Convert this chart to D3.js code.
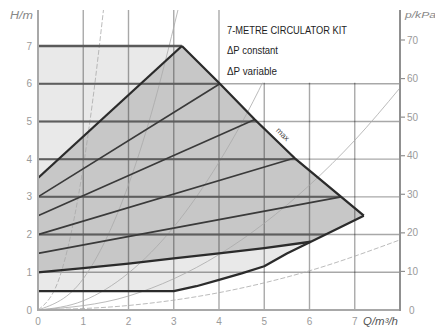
<!DOCTYPE html>
<html>
<head>
<meta charset="utf-8">
<script src="https://cdn.jsdelivr.net/npm/d3@7"></script>
<style>
  html, body { margin: 0; padding: 0; background: #fff; }
  svg { display: block; }
</style>
</head>
<body>
<svg id="chart" width="435" height="329"></svg>
<script>
// Axis ticks: flow rate (m³/h), head (m) and pressure (kPa)
const qTicks = [0, 1, 2, 3, 4, 5, 6, 7];
const hTicks = [0, 1, 2, 3, 4, 5, 6, 7];
const kpaTicks = [0, 10, 20, 30, 40, 50, 60, 70];

// Operating field of the circulator, points as [Q m³/h, H m]
const constMaxHead = 7;
const maxSpeedCurve = [[3.18, 7], [4.02, 6], [4.79, 5.05], [5.67, 4.03], [6.7, 3.0], [7.2, 2.5]];
const minSpeedCurve = [[0, 0.5], [3.0, 0.5], [3.5, 0.63], [4.0, 0.8], [4.5, 0.97], [5.0, 1.16],
                       [5.5, 1.5], [6.03, 1.81], [7.2, 2.5]];
const varMaxLine = [[0, 3.5], [3.18, 7]];
const varMinLine = [[0, 1.0], [1, 1.11], [2, 1.23], [3, 1.37], [4, 1.5], [5, 1.64], [6.03, 1.81]];

// Intermediate ΔP variable settings: head at zero flow, end point on the max curve
const varStartHeads = [3.0, 2.5, 2.0, 1.5];
const varEndPoints = [[4.02, 6.0], [4.79, 5.05], [5.67, 4.03], [6.7, 3.0]];

// Intermediate ΔP constant settings (m)
const constHeads = [2, 3, 4, 5, 6];

// Installation curves through the origin
const systemCurves = [
  { dashed: true,  pts: [[0, 0], [0.5, 0.95], [0.8, 2.43], [1.0, 3.8], [1.2, 5.47], [1.45, 7.99]] },
  { dashed: false, pts: [[0, 0], [1, 0.83], [1.5, 1.87], [2, 3.32], [2.5, 5.19], [3.1, 7.99]] },
  { dashed: false, pts: [[0, 0], [1, 0.245], [2, 0.98], [3, 2.2], [4, 3.92], [5, 6.12], [5.7, 7.99]] },
  { dashed: false, pts: [[0, 0], [2, 0.37], [4, 1.47], [5, 2.3], [6, 3.31], [7, 4.5], [8, 5.89]] },
  { dashed: true,  pts: [[0, 0], [2, 0.12], [4, 0.46], [6, 1.04], [8, 1.86]] }
];

// Legend block
const legendLines = ["7-METRE CIRCULATOR KIT", "ΔP constant", "ΔP variable"];

// ---------------------------------------------------------------------------
const svg = d3.select("#chart");
const x = d3.scaleLinear().domain([0, 8]).range([38, 400]);
const y = d3.scaleLinear().domain([0, 7]).range([310, 46]);
const yKpa = d3.scaleLinear().domain([0, 70]).range([310, 40]);
const plotTop = 10;

const line = d3.line().x(d => x(d[0])).y(d => y(d[1]));
const smooth = d3.line().x(d => x(d[0])).y(d => y(d[1])).curve(d3.curveMonotoneX);

const defs = svg.append("defs");
defs.append("clipPath").attr("id", "plotClip")
  .append("rect").attr("x", x(0)).attr("y", plotTop)
  .attr("width", x(8) - x(0)).attr("height", y(0) - plotTop);

// Full operating envelope (ΔP constant range)
const envelope = [[0, 0.5], [0, constMaxHead], ...maxSpeedCurve, ...minSpeedCurve.slice(0, -1).reverse()];
// ΔP variable range
const varEnd = varMinLine[varMinLine.length - 1];
const darkField = [...varMaxLine, ...maxSpeedCurve.slice(1),
                   ...minSpeedCurve.filter(p => p[0] > varEnd[0]).reverse(),
                   ...varMinLine.slice().reverse()];

defs.append("clipPath").attr("id", "envClip")
  .append("path").attr("d", line(envelope) + "Z");

svg.append("path").attr("d", line(envelope) + "Z").attr("fill", "#e9e9e9");
svg.append("path").attr("d", line(darkField) + "Z").attr("fill", "#c7c7c7");

// Grid
const grid = svg.append("g").attr("stroke", "#000").attr("stroke-opacity", 0.34).attr("stroke-width", 1.4);
grid.selectAll("line.v").data(qTicks.filter(d => d > 0)).join("line")
  .attr("x1", d => x(d)).attr("x2", d => x(d)).attr("y1", plotTop).attr("y2", y(0));
grid.selectAll("line.h").data(hTicks.filter(d => d > 0 && d < 7)).join("line")
  .attr("x1", x(0)).attr("x2", x(8)).attr("y1", d => y(d)).attr("y2", d => y(d));

// Installation curves
svg.append("g").attr("clip-path", "url(#plotClip)")
  .selectAll("path").data(systemCurves).join("path")
  .attr("d", d => smooth(d.pts))
  .attr("fill", "none").attr("stroke", "#a9a9a9").attr("stroke-width", 0.8)
  .attr("stroke-dasharray", d => d.dashed ? "5,2" : null);

// Legend panel over the upper right of the grid
svg.append("rect")
  .attr("x", x(4) + 1).attr("y", 0)
  .attr("width", x(8) - x(4) - 2).attr("height", y(6) - 1)
  .attr("fill", "#fff");

svg.append("g").selectAll("text").data(legendLines).join("text")
  .attr("x", 227).attr("y", (d, i) => [33.5, 54, 74.5][i])
  .attr("textLength", (d, i) => [120, 51, 50][i])
  .attr("lengthAdjust", "spacingAndGlyphs")
  .attr("font-family", "'Liberation Sans Narrow', 'Liberation Sans', Arial, sans-serif")
  .attr("font-size", 11.5).attr("fill", "#1e1e1e")
  .text(d => d);

// ΔP constant settings inside the envelope
svg.append("g").attr("clip-path", "url(#envClip)")
  .selectAll("line").data(constHeads).join("line")
  .attr("x1", x(0)).attr("x2", x(8)).attr("y1", d => y(d)).attr("y2", d => y(d))
  .attr("stroke", "#5e5e5e").attr("stroke-width", 2);

svg.append("path").attr("d", line([[0, constMaxHead], maxSpeedCurve[0]]))
  .attr("stroke", "#5a5a5a").attr("stroke-width", 2.6).attr("fill", "none");

// ΔP variable settings
svg.append("g").selectAll("path").data(varStartHeads).join("path")
  .attr("d", (d, i) => line([[0, d], varEndPoints[i]]))
  .attr("stroke", "#3a3a3a").attr("stroke-width", 1.7).attr("fill", "none");

// Field boundaries
const bounds = svg.append("g").attr("fill", "none").attr("stroke", "#2b2b2b").attr("stroke-width", 2.3)
  .attr("stroke-linejoin", "round");
bounds.append("path").attr("d", line(varMaxLine));
bounds.append("path").attr("d", line(maxSpeedCurve));
bounds.append("path").attr("d", line(minSpeedCurve));
bounds.append("path").attr("d", line(varMinLine));

// "max" label along the max speed curve
{
  const a = maxSpeedCurve[2], b = maxSpeedCurve[3];
  const ax = x(a[0]), ay = y(a[1]), bx = x(b[0]), by = y(b[1]);
  const len = Math.hypot(bx - ax, by - ay);
  const ux = (bx - ax) / len, uy = (by - ay) / len;
  const t = 0.55 * len;
  const px = ax + ux * t + uy * 9, py = ay + uy * t - ux * 9;
  const ang = Math.atan2(by - ay, bx - ax) * 180 / Math.PI;
  svg.append("text")
    .attr("transform", `translate(${px},${py}) rotate(${ang})`)
    .attr("text-anchor", "middle").attr("dy", "0.35em")
    .attr("font-family", "'Liberation Sans', Arial, sans-serif")
    .attr("font-size", 8).attr("fill", "#444")
    .text("max");
}

// Axes frame
const axisG = svg.append("g").attr("stroke", "#a8a8a8").attr("stroke-width", 2).attr("fill", "none");
axisG.append("line").attr("x1", x(0)).attr("x2", x(0)).attr("y1", plotTop).attr("y2", y(0) + 1);
axisG.append("line").attr("x1", x(0) - 1).attr("x2", x(8) + 1).attr("y1", y(0)).attr("y2", y(0));
axisG.append("line").attr("x1", x(8)).attr("x2", x(8)).attr("y1", plotTop).attr("y2", y(0) + 1)
  .attr("stroke", "#909090");

// Right pressure axis ticks
svg.append("g").attr("stroke", "#909090").attr("stroke-width", 1.2)
  .selectAll("line").data(kpaTicks.filter(d => d > 0)).join("line")
  .attr("x1", x(8)).attr("x2", x(8) + 5).attr("y1", d => yKpa(d)).attr("y2", d => yKpa(d));

const labelFont = "'Liberation Sans', Arial, sans-serif";
svg.append("g").selectAll("text").data(hTicks).join("text")
  .attr("x", 32).attr("y", d => y(d)).attr("dy", "0.35em").attr("text-anchor", "end")
  .attr("font-family", labelFont).attr("font-size", 10).attr("fill", "#9a9a9a")
  .text(d => d);

svg.append("g").selectAll("text").data(qTicks).join("text")
  .attr("x", d => x(d)).attr("y", 325).attr("text-anchor", "middle")
  .attr("font-family", labelFont).attr("font-size", 10).attr("fill", "#9a9a9a")
  .text(d => d);

svg.append("g").selectAll("text").data(kpaTicks).join("text")
  .attr("x", d => d === 0 ? 409 : 407).attr("y", d => yKpa(d)).attr("dy", "0.35em")
  .attr("font-family", labelFont).attr("font-size", 10).attr("fill", "#9a9a9a")
  .text(d => d);

// Axis titles
svg.append("text").attr("x", 10).attr("y", 18.5).attr("textLength", 23).attr("lengthAdjust", "spacingAndGlyphs")
  .attr("font-family", labelFont).attr("font-style", "italic").attr("font-size", 10).attr("fill", "#888")
  .text("H/m");
svg.append("text").attr("x", 405).attr("y", 18).attr("textLength", 31).attr("lengthAdjust", "spacingAndGlyphs")
  .attr("font-family", labelFont).attr("font-style", "italic").attr("font-size", 9.5).attr("fill", "#888")
  .text("p/kPa");
svg.append("text").attr("x", 363).attr("y", 325).attr("textLength", 35).attr("lengthAdjust", "spacingAndGlyphs")
  .attr("font-family", labelFont).attr("font-style", "italic").attr("font-size", 10).attr("fill", "#555")
  .text("Q/m³/h");
</script>
</body>
</html>
